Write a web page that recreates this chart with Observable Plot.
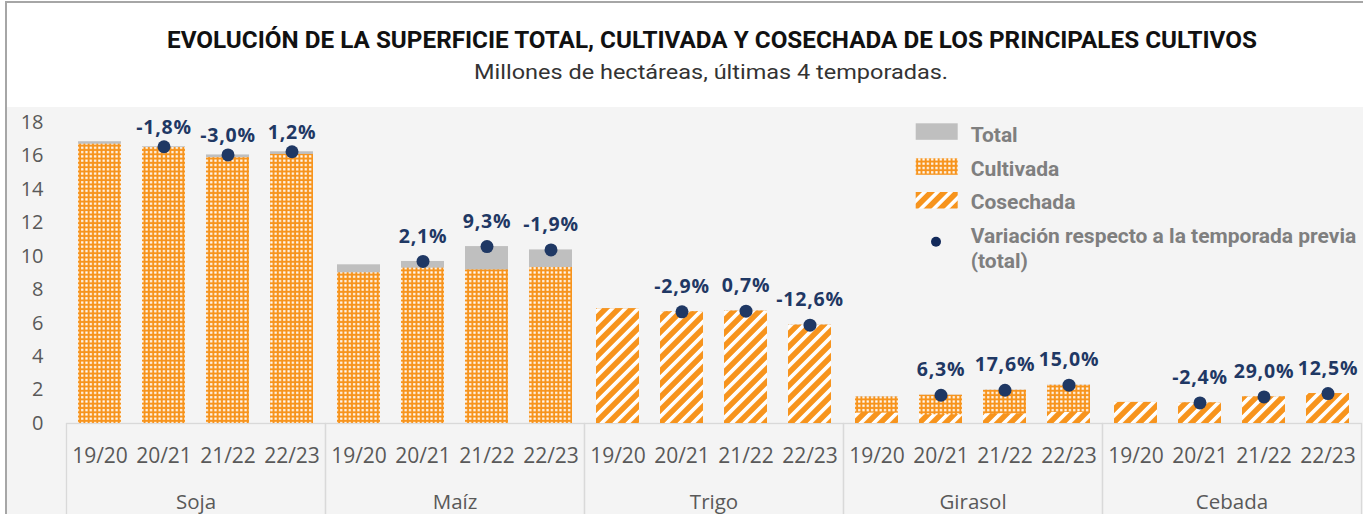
<!DOCTYPE html>
<html>
<head>
<meta charset="utf-8">
<script src="https://cdn.jsdelivr.net/npm/d3@7"></script>
<script src="https://cdn.jsdelivr.net/npm/@observablehq/plot@0.6"></script>
<style>
  html, body { margin: 0; padding: 0; background: #fff; }
  #root { position: relative; width: 1363px; height: 514px; overflow: hidden; background: #fff; }
  #border { position: absolute; left: 5px; top: 1px; width: 1400px; height: 600px; border-left: 2px solid #a6a6a6; border-top: 2px solid #a6a6a6; box-sizing: border-box; }
  #panel { position: absolute; left: 7px; top: 107px; width: 1356px; height: 407px; background: #f4f4f4; }
  #header { position: absolute; left: 0; top: 0; }
  #chart { position: absolute; left: 7px; top: 107px; }
  #legend { position: absolute; left: 900px; top: 110px; overflow: visible; }
  #chart [aria-label="text"] text { letter-spacing: 0.8px; }
</style>
</head>
<body>
<div id="root">
  <div id="border"></div>
  <div id="panel"></div>
  <svg width="0" height="0" style="position:absolute">
    <defs>
      <pattern id="patDots" patternUnits="userSpaceOnUse" width="4.3" height="4.3">
        <rect width="4.3" height="4.3" fill="#F7941D"></rect>
        <rect x="1" y="1" width="2.2" height="2.2" fill="#ffffff"></rect>
      </pattern>
      <pattern id="patStripes" patternUnits="userSpaceOnUse" width="9.2" height="9.2" patternTransform="rotate(45)">
        <rect width="9.2" height="9.2" fill="#F7941D"></rect>
        <rect x="0" y="0" width="3.6" height="9.2" fill="#ffffff"></rect>
      </pattern>
    </defs>
  </svg>
  <svg id="header" width="1363" height="107">
    <text x="712" y="48.3" text-anchor="middle" font-family="Roboto" font-weight="700" font-size="23" fill="#111" textLength="1090" lengthAdjust="spacingAndGlyphs">EVOLUCIÓN DE LA SUPERFICIE TOTAL, CULTIVADA Y COSECHADA DE LOS PRINCIPALES CULTIVOS</text>
    <text x="711" y="79.3" text-anchor="middle" font-family="Roboto" font-weight="400" font-size="21" fill="#333" textLength="474" lengthAdjust="spacingAndGlyphs">Millones de hectáreas, últimas 4 temporadas.</text>
  </svg>
  <div id="chart"></div>
  <svg id="legend" width="463" height="170"></svg>
</div>
<script>
// ---- Data ----
const crops = ["Soja", "Maíz", "Trigo", "Girasol", "Cebada"];
const seasons = ["19/20", "20/21", "21/22", "22/23"];
const yTicks = [0, 2, 4, 6, 8, 10, 12, 14, 16, 18];
// Superficie total (millones de ha), en orden cultivo x temporada
const total = [16.85, 16.55, 16.06, 16.25,  9.49, 9.69, 10.58, 10.38,  6.86, 6.68, 6.72, 5.88,  1.59, 1.69, 1.99, 2.29,  1.26, 1.23, 1.59, 1.79];
// Superficie cultivada
const cultivada = [16.70, 16.50, 15.90, 16.09,  9.01, 9.29, 9.19, 9.33,  6.86, 6.68, 6.72, 5.88,  1.59, 1.69, 1.99, 2.29,  1.26, 1.23, 1.59, 1.79];
// Superficie cosechada (sin dato en soja y maíz)
const cosechada = [null, null, null, null,  null, null, null, null,  6.86, 6.68, 6.72, 5.88,  0.62, 0.52, 0.58, 0.66,  1.26, 1.23, 1.59, 1.79];
// Variación respecto a la temporada previa (total), %
const variacion = [null, -1.8, -3.0, 1.2,  null, 2.1, 9.3, -1.9,  null, -2.9, 0.7, -12.6,  null, 6.3, 17.6, 15.0,  null, -2.4, 29.0, 12.5];
const legendLabels = ["Total", "Cultivada", "Cosechada", "Variación respecto a la temporada previa", "(total)"];

// ---- Styles ----
const ORANGE = "#F7941D";
const GREY = "#BFBFBF";
const NAVY = "#1F3864";
const AXIS = "#595959";

const rows = crops.flatMap((crop, i) => seasons.map((season, j) => {
  const k = i * seasons.length + j;
  return {crop, season, total: total[k], cultivada: cultivada[k], cosechada: cosechada[k], variacion: variacion[k]};
}));
const fmt = (v) => v.toFixed(1).replace(".", ",") + "%";
const withVar = rows.filter(d => d.variacion != null);

const chart = Plot.plot({
  width: 1356,
  height: 407,
  marginTop: 15,
  marginBottom: 91,
  marginLeft: 59,
  marginRight: 2,
  style: {background: "transparent", fontFamily: "Open Sans", fontSize: "20px", color: AXIS, overflow: "visible"},
  fx: {domain: crops, padding: 0, label: null},
  x: {domain: seasons, paddingInner: 0.335, paddingOuter: 0.1675, label: null},
  y: {domain: [0, 18], label: null},
  marks: [
    Plot.frame({stroke: "#D9D9D9", strokeWidth: 1.3, insetTop: 301, insetBottom: -95}),
    Plot.barY(rows, {fx: "crop", x: "season", y: "total", fill: GREY}),
    Plot.barY(rows, {fx: "crop", x: "season", y: "cultivada", fill: "url(#patDots)"}),
    Plot.barY(rows.filter(d => d.cosechada != null), {fx: "crop", x: "season", y: "cosechada", fill: "url(#patStripes)"}),
    Plot.dot(withVar, {fx: "crop", x: "season", y: "total", r: 6.5, fill: NAVY, stroke: "none"}),
    Plot.text(withVar.filter(d => d.total < 15), {fx: "crop", x: "season", y: "total", text: d => fmt(d.variacion), dy: -25, fill: NAVY, fontWeight: "bold", fontSize: 19.5, fontFamily: "Open Sans"}),
    Plot.text(withVar.filter(d => d.total >= 15), {fx: "crop", x: "season", y: "total", text: d => fmt(d.variacion), dy: -19, fill: NAVY, fontWeight: "bold", fontSize: 19.5, fontFamily: "Open Sans"}),
    Plot.axisX({tickSize: 0, tickPadding: 25, fill: AXIS, fontSize: 21}),
    Plot.axisFx({anchor: "bottom", tickSize: 0, tickPadding: 71, fill: AXIS, fontSize: 20.5}),
    Plot.axisY({ticks: yTicks, tickSize: 0, tickPadding: 23, fill: AXIS, fontSize: 20})
  ]
});
document.getElementById("chart").appendChild(chart);

// ---- Legend ----
const lg = d3.select("#legend");
const swatchX = 15.7, swatchW = 42, textX = 70.7;
const items = [
  {label: legendLabels[0], fill: GREY, y0: 13.3, base: 32},
  {label: legendLabels[1], fill: "url(#patDots)", y0: 48.3, base: 66},
  {label: legendLabels[2], fill: "url(#patStripes)", y0: 82, base: 99}
];
items.forEach(it => {
  lg.append("rect").attr("x", swatchX).attr("y", it.y0).attr("width", swatchW).attr("height", 16.5).attr("fill", it.fill);
  lg.append("text").attr("x", textX).attr("y", it.base).attr("font-family", "Roboto").attr("font-weight", 700)
    .attr("font-size", 21).attr("fill", "#7F7F7F").text(it.label);
});
lg.append("circle").attr("cx", 36).attr("cy", 131.7).attr("r", 5).attr("fill", "#12295A");
lg.append("text").attr("x", textX).attr("y", 133).attr("font-family", "Roboto").attr("font-weight", 700)
  .attr("font-size", 21).attr("fill", "#7F7F7F").text(legendLabels[3]);
lg.append("text").attr("x", textX).attr("y", 158).attr("font-family", "Roboto").attr("font-weight", 700)
  .attr("font-size", 21).attr("fill", "#7F7F7F").text(legendLabels[4]);
</script>
</body>
</html>
